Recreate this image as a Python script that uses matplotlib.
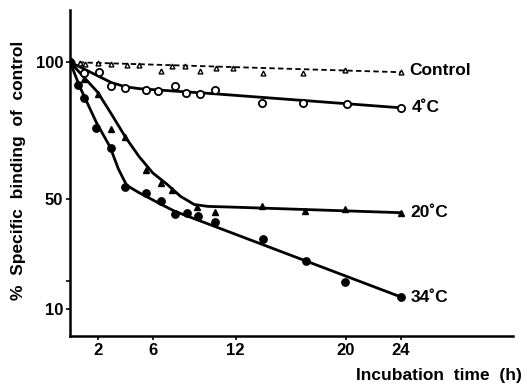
import matplotlib
matplotlib.use("Agg")
import matplotlib.pyplot as plt

plt.rcParams["font.family"] = ["Liberation Sans", "DejaVu Sans"]
plt.rcParams["font.weight"] = "bold"

# measured points (h, % specific binding)
ctrl_t = [0, 0.7, 1.1, 2.0, 3.0, 4.1, 5.0, 6.6, 7.4, 8.3, 9.4, 10.6, 11.8, 14.0, 16.9, 19.9, 24]
ctrl_y = [100, 99.6, 99.3, 99.5, 99.2, 99.0, 98.8, 96.8, 98.6, 98.4, 96.6, 98.0, 97.8, 96.0, 96.0, 97.2, 96.3]

c4_t = [0, 1.0, 2.1, 3.0, 4.0, 5.5, 6.4, 7.6, 8.4, 9.4, 10.5, 13.9, 16.9, 20.1, 24]
c4_y = [100, 96.0, 96.4, 91.3, 90.6, 89.9, 89.5, 91.3, 88.8, 88.4, 89.9, 85.1, 85.1, 84.8, 83.3]

c20_t = [0, 1.0, 2.0, 3.0, 4.0, 5.5, 6.6, 7.4, 9.2, 10.5, 13.9, 17.0, 19.9, 24]
c20_y = [100, 94.0, 88.4, 75.4, 72.5, 60.5, 55.8, 53.3, 47.1, 45.3, 47.5, 45.7, 46.4, 44.9]

c34_t = [0, 0.6, 1.0, 1.9, 3.0, 4.0, 5.5, 6.6, 7.6, 8.5, 9.3, 10.5, 14.0, 17.1, 19.9, 24]
c34_y = [100, 91.5, 87.0, 76.0, 68.5, 54.3, 52.2, 49.3, 44.6, 44.9, 43.8, 41.7, 35.5, 27.5, 19.6, 14.1]

# hand-drawn fit lines
ctrl_fit_t = [0, 24]
ctrl_fit_y = [100, 96.3]
c4_fit_t = [0, 1, 2, 3, 4, 5, 7, 10, 24]
c4_fit_y = [100, 97.5, 95, 92.5, 91, 90.3, 89.6, 88.6, 83.3]
c20_fit_t = [0, 1, 2, 3, 4, 5, 6, 7, 8, 9, 10, 12, 24]
c20_fit_y = [100, 94.5, 89, 81, 72.7, 65.5, 59.5, 55.5, 51, 48, 47.3, 47, 45]
c34_fit_t = [0, 0.7, 1.9, 2.9, 3.5, 4.1, 5.0, 5.5, 6.5, 7.6, 24]
c34_fit_y = [100, 91, 78, 69, 61, 55, 52.3, 51, 48.3, 45.5, 14.2]

x_ticks = [2, 6, 12, 20, 24]
y_ticks = [10, 50, 100]

fig = plt.figure(figsize=(5.27, 3.87), dpi=100)
ax = fig.add_axes([0.133, 0.132, 0.84, 0.842])

ax.plot(ctrl_fit_t, ctrl_fit_y, color="black", lw=1.3, ls=(0, (3, 1.8)))
ax.plot(c4_fit_t, c4_fit_y, color="black", lw=2.0)
ax.plot(c20_fit_t, c20_fit_y, color="black", lw=2.0)
ax.plot(c34_fit_t, c34_fit_y, color="black", lw=2.0)

ax.plot(ctrl_t, ctrl_y, ls="none", marker="^", ms=3.5, mfc="white", mec="black", mew=1.0)
ax.plot(c4_t, c4_y, ls="none", marker="o", ms=5.2, mfc="white", mec="black", mew=1.3)
ax.plot(c20_t, c20_y, ls="none", marker="^", ms=5, color="black")
ax.plot(c34_t, c34_y, ls="none", marker="o", ms=5.3, color="black")

lab_kw = dict(fontsize=12.5, fontweight="bold", va="center", ha="left")
ax.text(24.6, 97.0, "Control", **lab_kw)
ax.text(24.8, 83.3, "4\u02daC", **lab_kw)
ax.text(24.7, 45.0, "20\u02daC", **lab_kw)
ax.text(24.7, 14.2, "34\u02daC", **lab_kw)

ax.set_xlim(0, 32.1)
ax.set_ylim(0, 119)
ax.set_xticks(x_ticks)
ax.set_yticks(y_ticks)
ax.set_yticks([20], minor=True)
ax.tick_params(axis="both", direction="out", length=3, width=1.2, labelsize=12, pad=2)
ax.tick_params(axis="y", which="minor", length=3, width=1.2)
for lbl in ax.get_xticklabels() + ax.get_yticklabels():
    lbl.set_fontweight("bold")

for s in ["top", "right"]:
    ax.spines[s].set_visible(False)
for s in ["left", "bottom"]:
    ax.spines[s].set_linewidth(1.8)

fig.text(0.99, 0.03, "Incubation  time  (h)", fontsize=12.5, fontweight="bold", ha="right", va="center")
fig.text(0.035, 0.56, "%  Specific  binding  of  control", fontsize=12.5, fontweight="bold",
         rotation=90, ha="center", va="center")

fig.savefig("out.png", dpi=100)
